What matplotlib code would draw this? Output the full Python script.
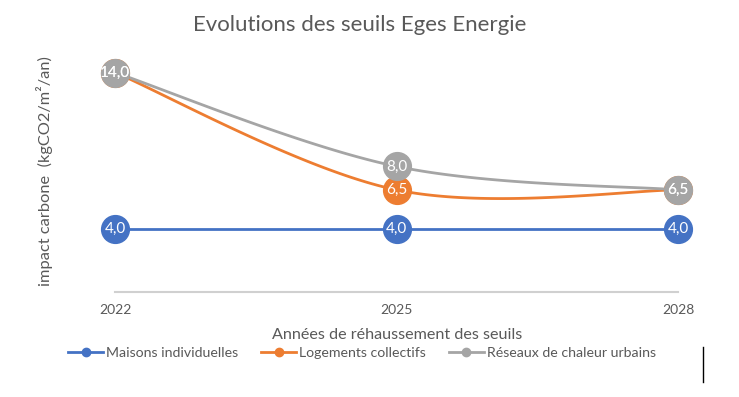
import numpy as np
import matplotlib
matplotlib.use("Agg")
import matplotlib.pyplot as plt
from matplotlib.lines import Line2D

plt.rcParams['font.family'] = ['Lato', 'DejaVu Sans']

years = ["2022", "2025", "2028"]
series_names = ["Maisons individuelles", "Logements collectifs", "Réseaux de chaleur urbains"]
maisons = [4.0, 4.0, 4.0]
logements = [14.0, 6.5, 6.5]
reseaux = [14.0, 8.0, 6.5]
colors = ["#4472C4", "#ED7D31", "#A5A5A5"]

title = "Evolutions des seuils Eges Energie"
xlabel = "Années de réhaussement des seuils"
ylabel = "impact carbone  (kgCO2/m²/an)"
TXT = "#595959"


def excel_smooth(x, y, n=60):
    x = np.asarray(x, float)
    y = np.asarray(y, float)
    P = np.column_stack([x, y])
    Pext = np.vstack([P[0], P, P[-1]])
    out = []
    t = np.linspace(0, 1, n)[:, None]
    for i in range(len(P) - 1):
        p0, p1, p2, p3 = Pext[i], Pext[i + 1], Pext[i + 2], Pext[i + 3]
        c1 = p1 + (p2 - p0) / 6.0
        c2 = p2 - (p3 - p1) / 6.0
        seg = ((1 - t) ** 3) * p1 + 3 * ((1 - t) ** 2) * t * c1 + 3 * (1 - t) * t ** 2 * c2 + t ** 3 * p2
        out.append(seg if i == 0 else seg[1:])
    out = np.vstack(out)
    return out[:, 0], out[:, 1]


W, H = 739, 397
fig = plt.figure(figsize=(W / 100, H / 100), dpi=100)
ax = fig.add_axes([115 / W, (H - 291.6) / H, 563 / W, 250.4 / H])

xs = np.arange(len(years))
all_series = [maisons, logements, reseaux]
for vals, col, name in zip(all_series, colors, series_names):
    sx, sy = excel_smooth(xs, vals)
    ax.plot(sx, sy, color=col, lw=2.0, solid_capstyle='round', clip_on=False, zorder=2)
    ax.plot(xs, vals, 'o', color=col, ms=20, mec=col, clip_on=False, zorder=3)

for vals in all_series:
    for xi, v in zip(xs, vals):
        ax.text(xi, v, f"{v:.1f}".replace('.', ','), ha='center', va='center',
                color='white', fontsize=11, zorder=5)

ax.set_xlim(0, 2)
ax.set_ylim(0, 16)
ax.set_xticks(xs)
ax.set_xticklabels(years, color=TXT, fontsize=10)
ax.set_yticks([])
ax.tick_params(axis='x', length=0, pad=9)
for s in ['top', 'right', 'left']:
    ax.spines[s].set_visible(False)
ax.spines['bottom'].set_color('#D0D0D0')
ax.spines['bottom'].set_linewidth(1.5)

fig.text(360 / W, (H - 25) / H, title, ha='center', va='center', fontsize=16, color=TXT)
fig.text(397.5 / W, (H - 335) / H, xlabel, ha='center', va='center', fontsize=11.6, color=TXT)
fig.text(45 / W, (H - 171) / H, ylabel, ha='center', va='center', rotation=90, fontsize=11.8, color=TXT)

handles = [Line2D([0], [0], color=c, lw=2, marker='o', ms=6) for c in colors]
fig.legend(handles, series_names, loc='center', bbox_to_anchor=(362 / W, (H - 353) / H),
           ncol=3, frameon=False, fontsize=10.2, handlelength=2.5, handletextpad=0.2,
           columnspacing=1.6, labelcolor=TXT, borderpad=0, borderaxespad=0)

fig.add_artist(Line2D([703 / W, 703 / W], [(H - 347) / H, (H - 382) / H], color='black', lw=1))

fig.savefig("out.png", dpi=100)
